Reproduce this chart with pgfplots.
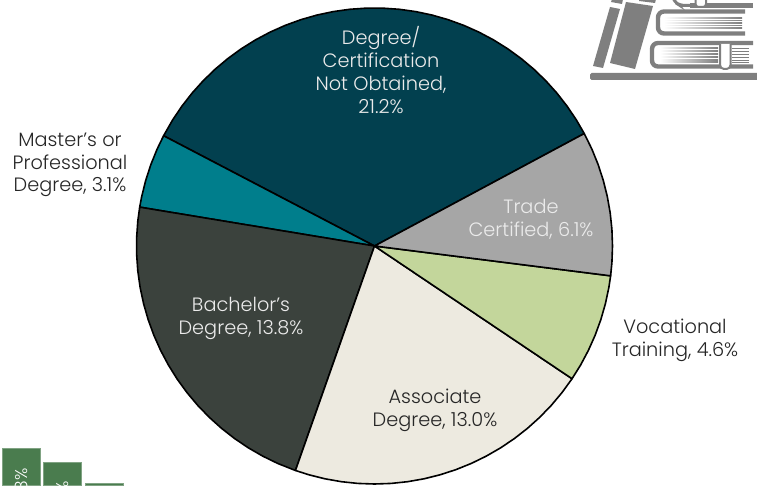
\documentclass[border=0pt]{standalone}
\usepackage{fontspec}
\setmainfont{Poppins Light}
\usepackage{pgfplots}
\pgfplotsset{compat=1.18}
\usepgfplotslibrary{polar}
\definecolor{navy}{HTML}{02404F}
\definecolor{tealc}{HTML}{007E8C}
\definecolor{darkc}{HTML}{3B423D}
\definecolor{creamc}{HTML}{EDEAE0}
\definecolor{greenc}{HTML}{C3D69B}
\definecolor{grayc}{HTML}{A6A6A6}
\definecolor{barg}{HTML}{4A7C4E}
\definecolor{bookg}{HTML}{7F7F7F}
\begin{document}
\begin{tikzpicture}[x=1pt,y=1pt]
\path[use as bounding box] (0,0) rectangle (757,485);
\clip (0,0) rectangle (757,485);
\begin{polaraxis}[
  at={(374.5pt,239pt)}, anchor=center,
  scale only axis, width=476pt, height=476pt,
  xmin=0, xmax=360, ymin=0, ymax=238,
  hide axis, clip=false]
\addplot[draw=black, line width=1.6pt, fill=navy, line join=round] coordinates {(0,0)(28.2,238)(32,238)(36,238)(40,238)(44,238)(48,238)(52,238)(56,238)(60,238)(64,238)(68,238)(72,238)(76,238)(80,238)(84,238)(88,238)(92,238)(96,238)(100,238)(104,238)(108,238)(112,238)(116,238)(120,238)(124,238)(128,238)(132,238)(136,238)(140,238)(144,238)(148,238)(152.4,238)} --cycle;
\addplot[draw=black, line width=1.6pt, fill=tealc, line join=round] coordinates {(0,0)(152.4,238)(156,238)(160,238)(164,238)(168,238)(170.6,238)} --cycle;
\addplot[draw=black, line width=1.6pt, fill=darkc, line join=round] coordinates {(0,0)(170.6,238)(174,238)(178,238)(182,238)(186,238)(190,238)(194,238)(198,238)(202,238)(206,238)(210,238)(214,238)(218,238)(222,238)(226,238)(230,238)(234,238)(238,238)(242,238)(246,238)(250.6,238)} --cycle;
\addplot[draw=black, line width=1.6pt, fill=creamc, line join=round] coordinates {(0,0)(250.6,238)(254,238)(258,238)(262,238)(266,238)(270,238)(274,238)(278,238)(282,238)(286,238)(290,238)(294,238)(298,238)(302,238)(306,238)(310,238)(314,238)(318,238)(322,238)(326.1,238)} --cycle;
\addplot[draw=black, line width=1.6pt, fill=greenc, line join=round] coordinates {(0,0)(326.1,238)(330,238)(334,238)(338,238)(342,238)(346,238)(350,238)(352.8,238)} --cycle;
\addplot[draw=black, line width=1.6pt, fill=grayc, line join=round] coordinates {(0,0)(352.8,238)(356,238)(360,238)(364,238)(368,238)(372,238)(376,238)(380,238)(384,238)(388.2,238)} --cycle;
\end{polaraxis}
\begin{axis}[
  at={(0pt,0pt)}, anchor=south west,
  scale only axis, width=757pt, height=485pt,
  xmin=0, xmax=757, ymin=0, ymax=485,
  hide axis, clip=false]
\addplot[ybar, bar width=38pt, bar shift=0pt, fill=barg, draw=barg!70!white, line width=0.5pt]
  coordinates {(21,37)(62.5,23)(104,2)};
\end{axis}
\tikzset{lab/.style={align=center, font=\fontsize{19.3}{22.7}\selectfont}}
\node[lab, text=white!92!black] at (381,415) {Degree/\\Certification\\Not Obtained,\\21.2\%};
\node[lab, text=white!92!black] at (531,265.5) {Trade\\Certified, 6.1\%};
\node[lab, text=black!85] at (675,144.5) {Vocational\\Training, 4.6\%};
\node[lab, text=black!85] at (435,74.5) {Associate\\Degree, 13.0\%};
\node[lab, text=white!92!black] at (241,166.5) {Bachelor's\\Degree, 13.8\%};
\node[lab, text=black!85] at (70,320) {Master's or\\Professional\\Degree, 3.1\%};
\node[rotate=90, anchor=east, text=white, font=\fontsize{17}{17}\selectfont] at (21.5,20) {8\%};
\node[rotate=90, anchor=east, text=white, font=\fontsize{17}{17}\selectfont] at (62.5,7) {4\%};
% book icon
\begin{scope}[yshift=485pt, y=-1pt, x=1pt]
\fill[bookg, rounded corners=1.5pt] (590,73) rectangle (760,80);
\fill[bookg] (610,7) -- (620,9) -- (603,68) -- (593,66) -- cycle;
\fill[bookg] (626,2) -- (653,6) -- (635,69) -- (610,63) -- cycle;
\fill[bookg] (612,-1) -- (623,-1) -- (622,4) -- (611,2) -- cycle;
\fill[bookg] (639,-1) -- (656,-1) -- (655,3) -- (639,1) -- cycle;
% middle book
\draw[bookg, line width=4.4pt, rounded corners=6pt] (745,11.5) -- (658,11.5) -- (658,33.5) -- (745,33.5);
\foreach \y in {18,20.5,23,25.5,28}{
  \shade[left color=white, right color=bookg] (664,\y-0.4) rectangle (742,\y+0.4);}
% lower book
\draw[bookg, line width=4.4pt, rounded corners=6pt] (753,43) -- (652,43) -- (652,66.5) -- (753,66.5);
\foreach \y in {48,51,54,57,60,62}{
  \shade[left color=white, right color=bookg] (660,\y-0.4) rectangle (718,\y+0.4);
  \fill[bookg] (732,\y-0.4) rectangle (749,\y+0.4);}
\fill[white, draw=bookg, line width=2pt, rounded corners=4pt] (720,44) -- (720,69) -- (730.5,69) -- (730.5,44);
% top book
\draw[bookg, line width=4.4pt] (753,5.5) -- (690,5.5);
\draw[bookg, line width=3pt, rounded corners=5pt] (673,-3) -- (673,1) -- (680,5.5) -- (700,5.5);
\fill[white, draw=bookg, line width=2pt, rounded corners=3pt] (695.5,-3) -- (695.5,7) -- (706,7) -- (706,-3);
\end{scope}
\end{tikzpicture}
\end{document}
